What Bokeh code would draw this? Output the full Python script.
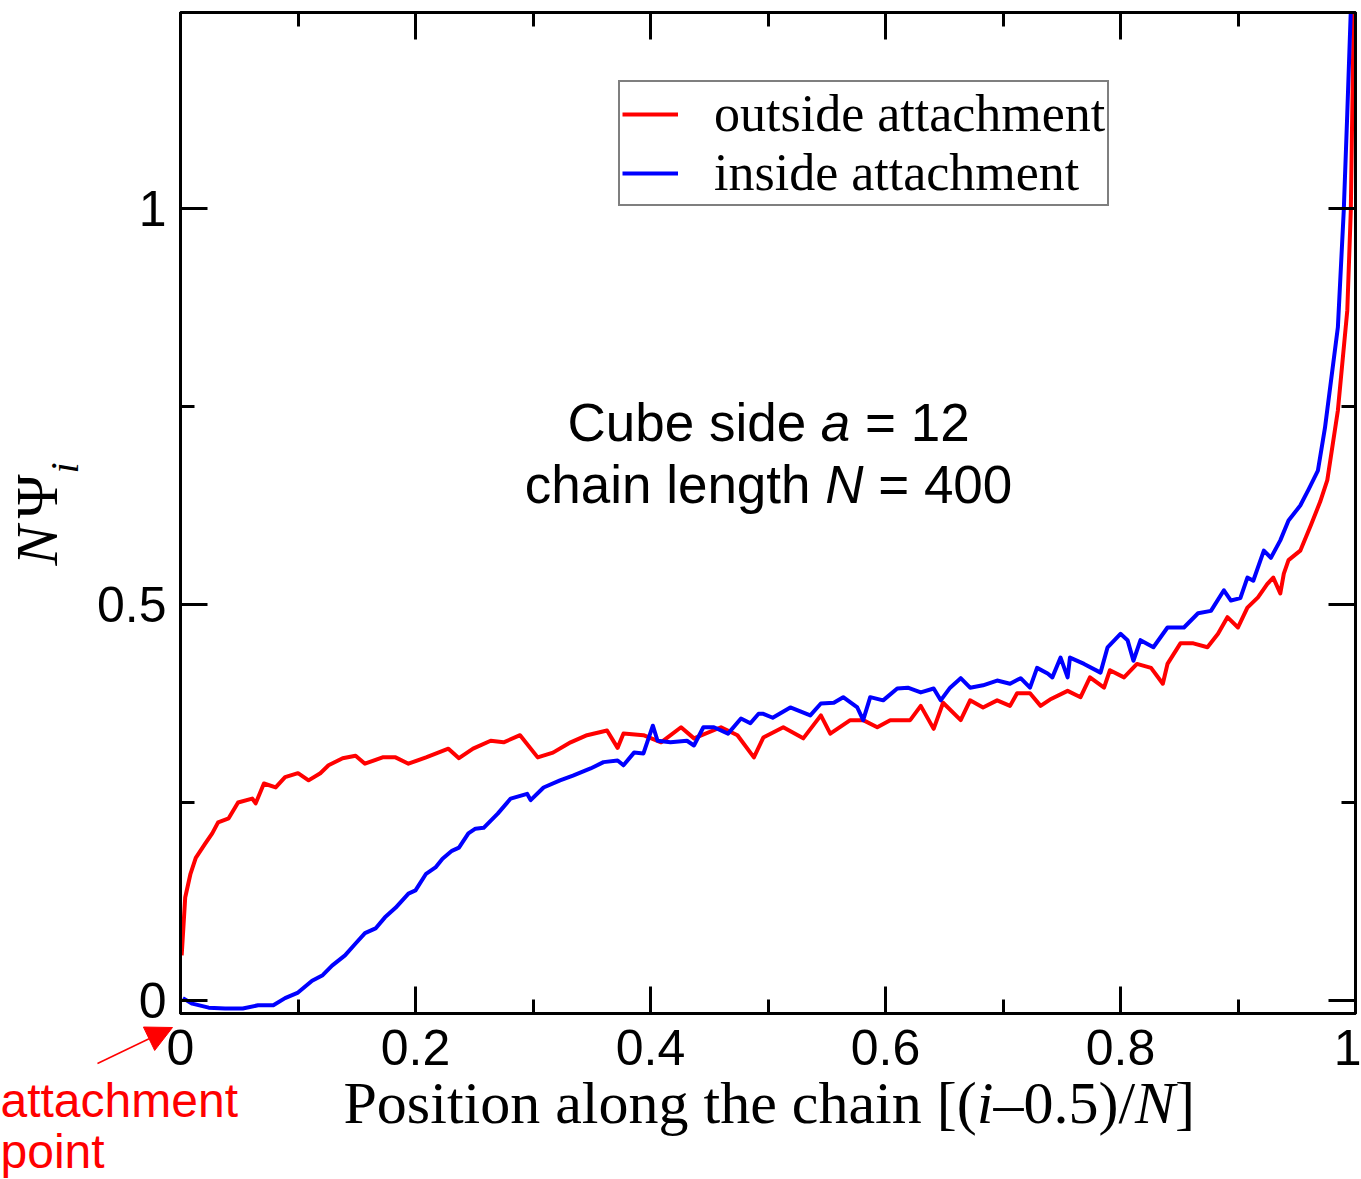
import numpy as np
from bokeh.plotting import figure
from bokeh.layouts import column, row
from bokeh.models import (Range1d, FixedTicker, LinearAxis, Label, Arrow, NormalHead,
                          Legend, LegendItem)
from bokeh.embed import file_html
from bokeh.resources import INLINE

# ---------------- data ----------------
outside_x = [0.001, 0.004, 0.0085, 0.013, 0.021, 0.027, 0.032, 0.041, 0.049, 0.061, 0.064,
             0.071, 0.081, 0.089, 0.100, 0.109, 0.119, 0.126, 0.138, 0.149, 0.157, 0.172,
             0.183, 0.194, 0.209, 0.228, 0.237, 0.249, 0.264, 0.275, 0.289, 0.304, 0.317,
             0.332, 0.346, 0.363, 0.372, 0.377, 0.394, 0.409, 0.426, 0.437, 0.460, 0.474,
             0.488, 0.496, 0.513, 0.530, 0.545, 0.553, 0.570, 0.581, 0.593, 0.604, 0.621,
             0.630, 0.641, 0.649, 0.664, 0.672, 0.683, 0.695, 0.706, 0.712, 0.723, 0.732,
             0.740, 0.755, 0.766, 0.774, 0.786, 0.791, 0.803, 0.814, 0.826, 0.836, 0.840,
             0.851, 0.862, 0.874, 0.883, 0.891, 0.900, 0.908, 0.917, 0.925, 0.930, 0.936,
             0.939, 0.943, 0.953, 0.962, 0.970, 0.976, 0.985, 0.993, 0.996, 0.999]
outside_y = [0.057, 0.130, 0.160, 0.180, 0.198, 0.211, 0.225, 0.230, 0.250, 0.255, 0.249,
             0.274, 0.269, 0.282, 0.287, 0.278, 0.287, 0.297, 0.306, 0.309, 0.299, 0.307,
             0.307, 0.299, 0.307, 0.318, 0.306, 0.318, 0.328, 0.326, 0.335, 0.307, 0.313,
             0.326, 0.335, 0.341, 0.319, 0.337, 0.335, 0.326, 0.345, 0.331, 0.345, 0.335,
             0.307, 0.332, 0.345, 0.331, 0.360, 0.337, 0.354, 0.354, 0.345, 0.354, 0.354,
             0.372, 0.343, 0.376, 0.354, 0.379, 0.370, 0.379, 0.372, 0.388, 0.388, 0.372,
             0.380, 0.391, 0.383, 0.408, 0.395, 0.417, 0.408, 0.425, 0.420, 0.400, 0.425,
             0.451, 0.451, 0.446, 0.463, 0.484, 0.471, 0.496, 0.509, 0.526, 0.534, 0.514,
             0.539, 0.556, 0.568, 0.600, 0.630, 0.657, 0.745, 0.871, 0.997, 1.300]

inside_x = [0.002, 0.010, 0.024, 0.038, 0.053, 0.066, 0.079, 0.089, 0.100, 0.112, 0.121,
            0.129, 0.140, 0.149, 0.157, 0.166, 0.174, 0.183, 0.194, 0.200, 0.209, 0.217,
            0.223, 0.231, 0.237, 0.245, 0.251, 0.258, 0.270, 0.281, 0.295, 0.298, 0.309,
            0.323, 0.334, 0.349, 0.360, 0.372, 0.377, 0.386, 0.394, 0.402, 0.406, 0.417,
            0.431, 0.437, 0.445, 0.454, 0.466, 0.477, 0.485, 0.492, 0.496, 0.504, 0.519,
            0.536, 0.545, 0.556, 0.564, 0.576, 0.581, 0.587, 0.598, 0.610, 0.619, 0.630,
            0.641, 0.647, 0.655, 0.664, 0.672, 0.683, 0.695, 0.706, 0.715, 0.723, 0.729,
            0.738, 0.742, 0.749, 0.755, 0.757, 0.769, 0.783, 0.789, 0.800, 0.806, 0.811,
            0.817, 0.828, 0.840, 0.854, 0.866, 0.877, 0.888, 0.894, 0.902, 0.908, 0.913,
            0.922, 0.928, 0.936, 0.943, 0.953, 0.960, 0.968, 0.974, 0.985, 0.990, 0.993,
            0.996, 0.998]
inside_y = [0.003, -0.004, -0.009, -0.010, -0.010, -0.006, -0.006, 0.003, 0.010, 0.025, 0.032,
            0.044, 0.057, 0.072, 0.085, 0.091, 0.105, 0.117, 0.135, 0.139, 0.160, 0.168,
            0.179, 0.189, 0.193, 0.211, 0.217, 0.218, 0.236, 0.255, 0.261, 0.253, 0.269,
            0.278, 0.284, 0.293, 0.301, 0.303, 0.297, 0.313, 0.312, 0.347, 0.328, 0.326,
            0.328, 0.322, 0.345, 0.345, 0.337, 0.356, 0.350, 0.362, 0.362, 0.357, 0.370,
            0.360, 0.375, 0.376, 0.383, 0.370, 0.354, 0.383, 0.379, 0.394, 0.395, 0.389,
            0.394, 0.379, 0.395, 0.407, 0.395, 0.398, 0.404, 0.400, 0.407, 0.395, 0.420,
            0.413, 0.408, 0.433, 0.408, 0.433, 0.425, 0.414, 0.446, 0.463, 0.455, 0.429,
            0.455, 0.446, 0.471, 0.471, 0.489, 0.492, 0.518, 0.505, 0.508, 0.534, 0.530,
            0.568, 0.559, 0.581, 0.606, 0.625, 0.645, 0.669, 0.723, 0.850, 0.997, 1.120,
            1.250, 1.300]

series_labels = ["outside attachment", "inside attachment"]
x_ticks = [0, 0.2, 0.4, 0.6, 0.8, 1]
x_tick_labels = ["0", "0.2", "0.4", "0.6", "0.8", "1"]
x_minor = [0.1, 0.3, 0.5, 0.7, 0.9]
y_ticks = [0, 0.5, 1]
y_tick_labels = ["0", "0.5", "1"]
y_minor = [0.25, 0.75]

SANS = "Liberation Sans"
SERIF = "Liberation Serif"
W, H = 1361, 1179
FL, FR, FT, FB = 180, 1355, 12, 1013          # frame edges in pixels
X0, X1 = 0.0, 1.0
Y0, Y1 = -0.0164, 1.2475

p = figure(frame_width=FR - FL, frame_height=FB - FT,
           x_range=Range1d(X0, X1), y_range=Range1d(Y0, Y1),
           output_backend="svg", toolbar_location=None,
           min_border_left=FL, min_border_right=W - FR, min_border_top=FT,
           min_border_bottom=H - FB,
           background_fill_color="white", border_fill_color="white")
p.xgrid.visible = False
p.ygrid.visible = False
p.outline_line_color = "black"
p.outline_line_width = 3


def style_axis(ax, ticks, minor, labels, show_labels):
    ax.ticker = FixedTicker(ticks=ticks, minor_ticks=minor)
    ax.axis_line_color = "black"
    ax.axis_line_width = 3
    ax.major_tick_line_color = "black"
    ax.major_tick_line_width = 3
    ax.minor_tick_line_color = "black"
    ax.minor_tick_line_width = 3
    ax.major_tick_in = 27
    ax.major_tick_out = 0
    ax.minor_tick_in = 14
    ax.minor_tick_out = 0
    if show_labels:
        ax.major_label_overrides = {t: l for t, l in zip(ticks, labels)}
        ax.major_label_text_font = SANS
        ax.major_label_text_font_size = "50px"
        ax.major_label_text_color = "black"
    else:
        ax.major_label_overrides = {t: "" for t in ticks}
        ax.major_label_text_font_size = "0px"
        ax.major_label_standoff = 0


style_axis(p.xaxis[0], x_ticks, x_minor, x_tick_labels, True)
p.xaxis[0].major_label_standoff = 16
style_axis(p.yaxis[0], y_ticks, y_minor, y_tick_labels, True)
p.yaxis[0].major_label_standoff = 14

top_ax = LinearAxis()
style_axis(top_ax, x_ticks, x_minor, x_tick_labels, False)
p.add_layout(top_ax, "above")
right_ax = LinearAxis()
style_axis(right_ax, y_ticks, y_minor, y_tick_labels, False)
p.add_layout(right_ax, "right")

r_out = p.line(outside_x, outside_y, line_color="#ff0000", line_width=4, line_join="round")
r_in = p.line(inside_x, inside_y, line_color="#0000ff", line_width=4, line_join="round")

legend = Legend(items=[LegendItem(label=series_labels[0], renderers=[r_out]),
                       LegendItem(label=series_labels[1], renderers=[r_in])],
                location=(438, 807), orientation="vertical",
                label_text_font=SERIF, label_text_font_size="52px",
                label_text_color="black",
                glyph_width=56, glyph_height=20, label_standoff=36,
                padding=2, spacing=0, margin=0,
                border_line_color="black", border_line_width=2,
                background_fill_color="white", background_fill_alpha=1.0)
p.add_layout(legend)

# ---------- overlay figure for texts that lie outside the frame ----------
# its frame is the whole canvas; its scales match the main figure's data scales
sx = (X1 - X0) / (FR - FL)
sy = (Y1 - Y0) / (FB - FT)
q = figure(width=W, height=H,
           x_range=Range1d(X0 - FL * sx, X1 + (W - FR) * sx),
           y_range=Range1d(Y0 - (H - FB) * sy, Y1 + FT * sy),
           x_axis_type=None, y_axis_type=None,
           output_backend="svg", toolbar_location=None,
           min_border=0, min_border_left=0, min_border_right=0,
           min_border_top=0, min_border_bottom=0,
           background_fill_color=None, border_fill_color=None,
           outline_line_color=None)


def lab(fig, text, x, y, size, font=SANS, style="normal", color="black", angle=0.0,
        align="left"):
    fig.add_layout(Label(x=x, y=y, text=text, text_font=font, text_font_size=size,
                         text_font_style=style, text_color=color, angle=angle,
                         text_align=align, text_baseline="middle"))


# annotation text inside the plot
lab(p, "Cube side", 0.32936, 0.73031, "53px")
lab(p, "a", 0.54494, 0.73031, "53px", style="italic")
lab(p, "= 12", 0.58255, 0.73031, "53px")
lab(p, "chain length", 0.29294, 0.65202, "53px")
lab(p, "N", 0.54868, 0.65202, "53px", style="italic")
lab(p, "= 400", 0.59379, 0.65202, "53px")

# x axis title
lab(q, "Position along the chain [(", 0.13872, -0.12973, "60px", font=SERIF)
lab(q, "i", 0.67770, -0.12973, "60px", font=SERIF, style="italic")
lab(q, "\u20130.5)/", 0.69191, -0.12973, "60px", font=SERIF)
lab(q, "N", 0.81243, -0.12973, "60px", font=SERIF, style="italic")
lab(q, "]", 0.84647, -0.12973, "60px", font=SERIF)

# y axis title (rotated)
lab(q, "N", -0.12191, 0.54924, "60px", font=SERIF, style="italic", angle=np.pi / 2)
lab(q, "\u03a8", -0.12191, 0.60859, "60px", font=SERIF, angle=np.pi / 2)
lab(q, "i", -0.09830, 0.66540, "40px", font=SERIF, style="italic", angle=np.pi / 2)

# attachment point annotation
lab(q, "attachment", -0.15319, -0.12667, "48px", color="#ff0000")
lab(q, "point", -0.15319, -0.19107, "48px", color="#ff0000")
q.add_layout(Arrow(x_start=-0.07064, y_start=-0.07955, x_end=-0.00681, y_end=-0.03409,
                   line_color="#ff0000", line_width=1.5,
                   end=NormalHead(size=26, fill_color="#ff0000", line_color="#ff0000",
                                  line_width=1)))

# the overlay is nested in its own row so that its frame is not aligned with p's frame
overlay = row(q)
overlay.margin = (-H, 0, 0, 0)
layout = column(p, overlay)
open("out.html", "w").write(file_html(layout, INLINE))
